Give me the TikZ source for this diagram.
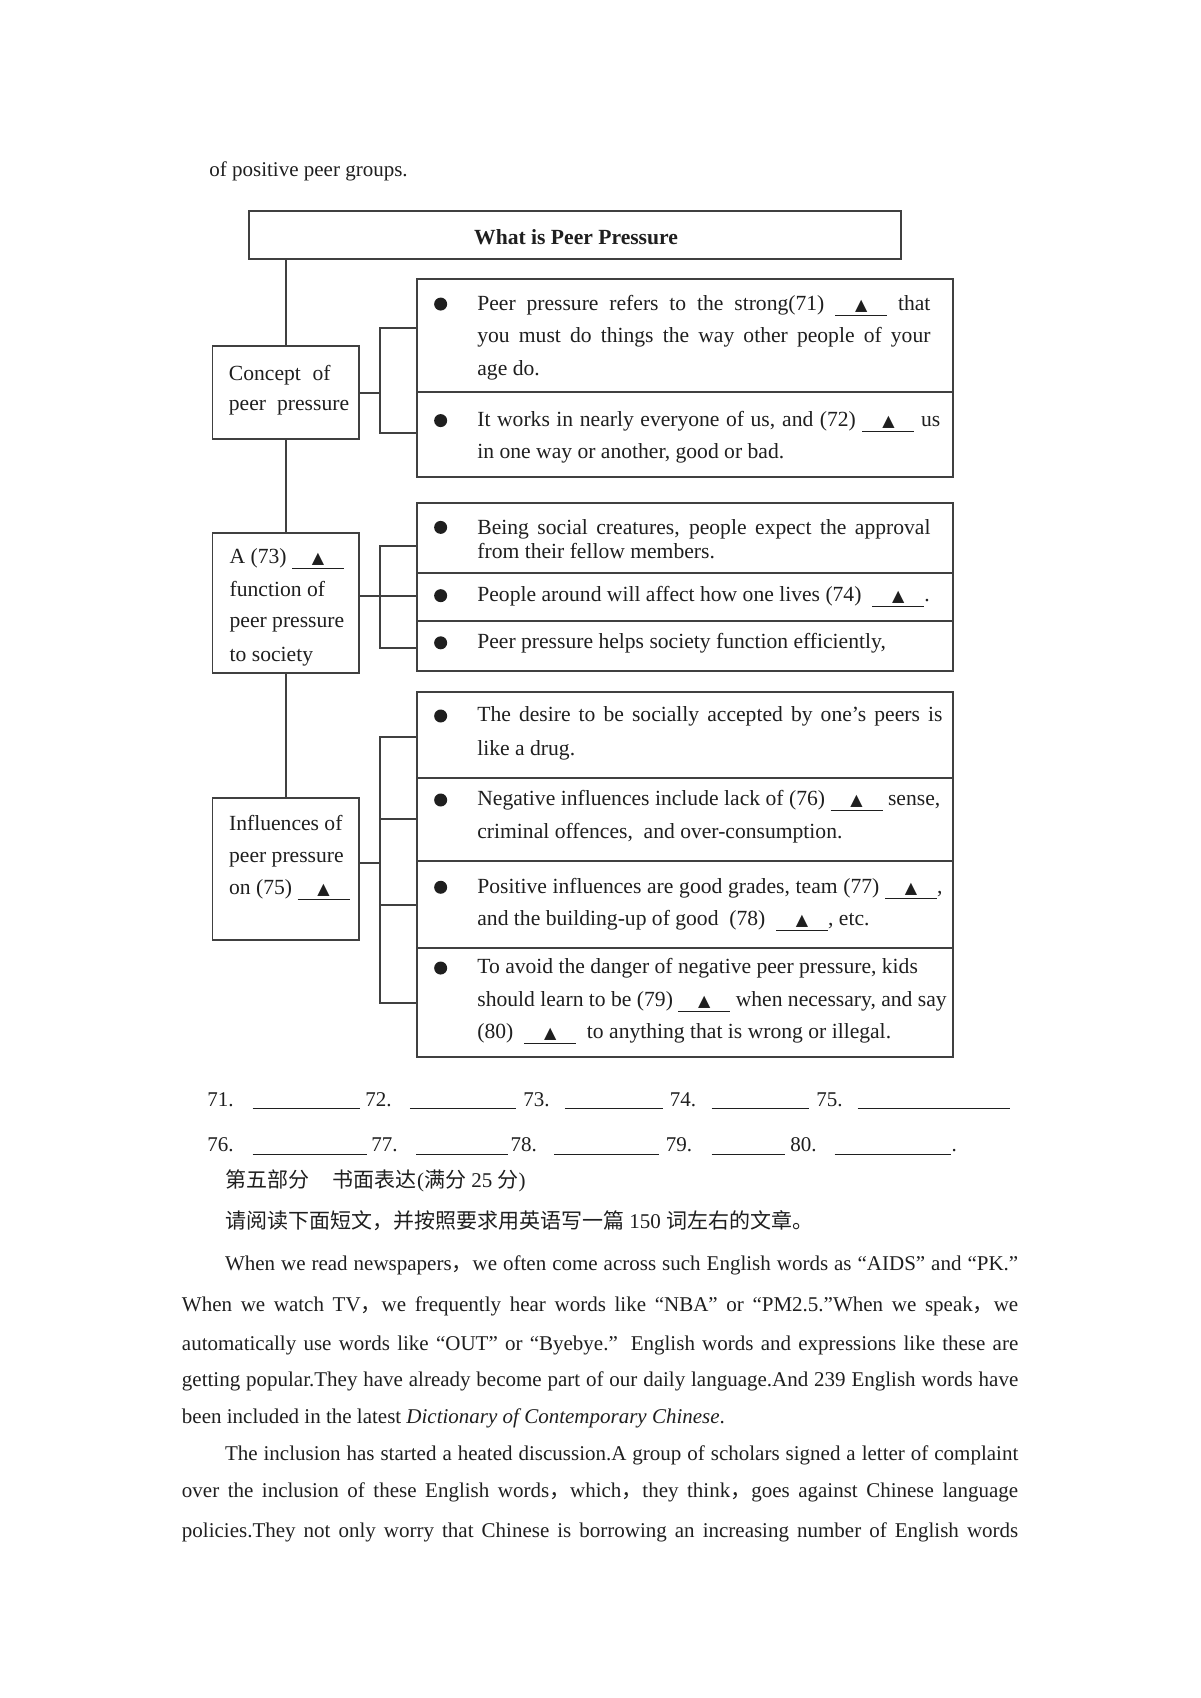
\documentclass[tikz,border=0pt]{standalone}
\usepackage{fontspec}
\setmainfont{Liberation Serif}
\newfontfamily\sym{DejaVu Sans}
\newfontfamily\cjk{Noto Sans CJK SC}
\usetikzlibrary{fit}
\colorlet{ink}{black!88}
\colorlet{lin}{black!75}
\newcount\lnc
\newcommand\txl[3]{\global\advance\lnc by 1\relax\node[tx] (t\the\lnc) at (#1,#2) {#3};}
\newcommand\jtl[4]{\global\advance\lnc by 1\relax\pgfmathsetmacro\jw{(#3-#1)*0.542}\node[tx] (t\the\lnc) at (#1,#2) {\makebox[\jw pt][s]{#4}};}
\newcommand\blk[1][26pt]{\underline{\makebox[#1]{\sym\fontsize{8}{9}\selectfont ▲}}}
\newcommand\ans[5]{\txl{#1}{#4}{#5}\pgfmathsetmacro\aw{(#3-#2)*0.542}\global\advance\lnc by 1\relax\node[tx] (t\the\lnc) at (#2,#4) {\rule[-1.5pt]{\aw pt}{0.5pt}};}
\newcommand\cm{{\cjk ，}}
\begin{document}
\begin{tikzpicture}[x=0.542pt,y=-0.542pt,
  font=\fontsize{10.5}{12.6}\selectfont, text=ink,
  boxst/.style={draw=lin, line width=0.95pt, inner sep=0pt},
  ln/.style={draw=lin, line width=0.95pt},
  tx/.style={anchor=west, inner sep=0pt, execute at begin node=\strut},
  bulst/.style={circle, fill=ink, inner sep=0pt, minimum size=6.5pt}]
\useasboundingbox (0,0) rectangle (1107,1566.4);
\fill[white] (0,0) rectangle (1107,1566.4);

\txl{192.8}{157.8}{of positive peer groups.}

% boxes
\node[boxst, fit={(230,194.3) (831.5,238.9)}] (title) {};
\node[font=\fontsize{10.8}{13}\selectfont\bfseries, inner sep=0pt] (ttl) at (531.4,219) {What is Peer Pressure};

\node[boxst, fit={(196,318.9) (331.5,405.3)}] (c1) {};
\node[boxst, fit={(196,491.4) (331.5,620.5)}] (c2) {};
\node[boxst, fit={(196,736.5) (331.5,867.2)}] (c3) {};

\node[boxst, fit={(385,257.7) (879,362)}] (r11) {};
\node[boxst, fit={(385,362) (879,439.7)}] (r12) {};
\node[boxst, fit={(385,463.7) (879,528.9)}] (r21) {};
\node[boxst, fit={(385,528.9) (879,572.9)}] (r22) {};
\node[boxst, fit={(385,572.9) (879,618.7)}] (r23) {};
\node[boxst, fit={(385,638.4) (879,717.4)}] (r31) {};
\node[boxst, fit={(385,717.4) (879,794.3)}] (r32) {};
\node[boxst, fit={(385,794.3) (879,874.2)}] (r33) {};
\node[boxst, fit={(385,874.2) (879,974.8)}] (r34) {};

% trunk
\draw[ln] (title.south -| c1.north) -- (c1.north);
\draw[ln] (c1.south) -- (c2.north);
\draw[ln] (c2.south) -- (c3.north);

% brackets
\coordinate (j1) at (350.7,362.2);
\coordinate (k11) at (385,302.3);
\coordinate (k12) at (385,399.8);
\draw[ln] (c1.east |- j1) -- (j1);
\draw[ln] (k11) -| (j1) |- (k12);

\coordinate (j2) at (350.7,549.8);
\coordinate (k21) at (385,503.7);
\coordinate (k22) at (385,549.8);
\coordinate (k23) at (385,597.5);
\draw[ln] (c2.east |- j2) -- (k22);
\draw[ln] (k21) -| (j2) |- (k23);

\coordinate (j3) at (350.7,796.4);
\coordinate (k31) at (385,679.6);
\coordinate (k32) at (385,755.5);
\coordinate (k33) at (385,834.9);
\coordinate (k34) at (385,925);
\draw[ln] (c3.east |- j3) -- (j3);
\draw[ln] (k31) -| (j3) |- (k34);
\draw[ln] (k32) -- (k32 -| j3);
\draw[ln] (k33) -- (k33 -| j3);

\begin{scope}[font=\fontsize{10.8}{13}\selectfont]
% left box texts
\jtl{210.8}{346}{304.7}{Concept of}
\jtl{210.8}{374.2}{321.7}{peer pressure}
\txl{211.5}{515}{A (73)\ \blk}
\txl{211.5}{545.8}{function of}
\txl{211.5}{574.5}{peer pressure}
\txl{211.5}{605.2}{to society}
\txl{211}{761.7}{Influences of}
\txl{211}{791.2}{peer pressure}
\txl{211}{820.4}{on (75)\ \blk}

% bullets
\node[bulst] (b11) at (406.5,280.5) {};
\node[bulst] (b12) at (406.5,388) {};
\node[bulst] (b21) at (406.5,486.5) {};
\node[bulst] (b22) at (406.5,549.5) {};
\node[bulst] (b23) at (406.5,593) {};
\node[bulst] (b31) at (406.5,660.5) {};
\node[bulst] (b32) at (406.5,738) {};
\node[bulst] (b33) at (406.5,818.5) {};
\node[bulst] (b34) at (406.5,893) {};

% right texts
\jtl{440}{281.4}{858}{Peer pressure refers to the strong(71)\ \blk{} that}
\jtl{440}{311.5}{858}{you must do things the way other people of your}
\txl{440}{341.3}{age do.}
\jtl{440}{389}{867}{It works in nearly everyone of us, and (72)\ \blk{} us}
\txl{440}{418.2}{in one way or another, good or bad.}
\jtl{440}{488}{858}{Being social creatures, people expect the approval}
\txl{440}{510.5}{from their fellow members.}
\txl{440}{550.4}{People around will affect how one lives (74)\ \ \blk.}
\txl{440}{593.3}{Peer pressure helps society function efficiently,}
\jtl{440}{661.1}{869}{The desire to be socially accepted by one’s peers is}
\txl{440}{691.9}{like a drug.}
\jtl{440}{738}{867}{Negative influences include lack of (76)\ \blk{} sense,}
\txl{440}{768.8}{criminal offences,\ \ and over-consumption.}
\jtl{440}{819.5}{869}{Positive influences are good grades, team (77)\ \blk,}
\txl{440}{848.7}{and the building-up of good\ \ (78)\ \ \blk, etc.}
\txl{440}{893.3}{To avoid the danger of negative peer pressure, kids}
\jtl{440}{924}{873}{should learn to be (79)\ \blk{} when necessary, and say}
\txl{440}{953.3}{(80)\ \ \blk\ \ to anything that is wrong or illegal.}
\end{scope}

% answer lines
\ans{191}{232.6}{331.6}{1016}{71.}
\ans{336.7}{377.8}{476}{1016}{72.}
\ans{482.5}{520.8}{611}{1016}{73.}
\ans{617.6}{656}{745.8}{1016}{74.}
\ans{752.8}{790.7}{931}{1016}{75.}
\ans{191}{232.6}{338.6}{1058}{76.}
\ans{342.3}{383.6}{468.3}{1058}{77.}
\ans{470.6}{510.7}{608}{1058}{78.}
\ans{614}{656}{724}{1058}{79.}
\ans{728.8}{769.5}{876.5}{1058}{80.}
\txl{877.5}{1058}{.}

% Chinese headings
\txl{207.2}{1091}{{\cjk 第五部分}\hspace{12pt}{\cjk 书面表达}({\cjk 满分} 25 {\cjk 分})}
\txl{207.2}{1128.5}{{\cjk 请阅读下面短文，并按照要求用英语写一篇} 150 {\cjk 词左右的文章。}}

% paragraphs
\jtl{207.2}{1167}{939}{When we read newspapers\cm we often come across such English words as “AIDS” and “PK.”}
\jtl{167.5}{1205.4}{939}{When we watch TV\cm we frequently hear words like “NBA” or “PM2.5.”When we speak\cm we}
\jtl{167.5}{1241.4}{939}{automatically use words like “OUT” or “Byebye.” English words and expressions like these are}
\jtl{167.5}{1274.6}{939}{getting popular.They have already become part of our daily language.And 239 English words have}
\txl{167.5}{1308.4}{been included in the latest \textit{Dictionary of Contemporary Chinese}.}
\jtl{207.2}{1342.2}{939}{The inclusion has started a heated discussion.A group of scholars signed a letter of complaint}
\jtl{167.5}{1377}{939}{over the inclusion of these English words\cm which\cm they think\cm goes against Chinese language}
\jtl{167.5}{1414}{939}{policies.They not only worry that Chinese is borrowing an increasing number of English words}
\end{tikzpicture}
\end{document}
